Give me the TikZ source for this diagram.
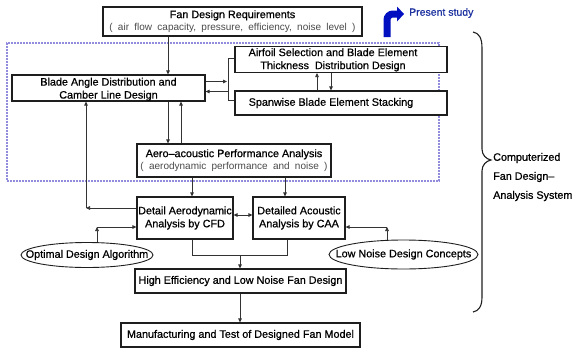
\documentclass[tikz,border=0pt]{standalone}
\usepackage{fontspec}
\setmainfont[FakeBold=0.7]{Liberation Sans}
\newfontfamily\subfont[WordSpace=1.9]{Liberation Sans}
\usetikzlibrary{arrows.meta,shapes.geometric}
\definecolor{boxline}{HTML}{1E1E1E}
\definecolor{conline}{HTML}{333333}
\definecolor{subgray}{HTML}{4A4A4A}
\definecolor{dashlav}{HTML}{928CDC}
\definecolor{psblue}{HTML}{1E32A0}
\definecolor{arrblue}{HTML}{0010C0}
\newcommand{\mainsz}{\fontsize{10.8}{13}\selectfont}
\newcommand{\subsz}{\subfont\fontsize{10}{13}\selectfont\color{subgray}}
\newcommand{\lowered}[2]{\raisebox{-#1}[\height][\depth]{\begin{tabular}{@{}c@{}}#2\end{tabular}}}
\tikzset{
  box/.style={draw=boxline, line width=1.2pt, fill=white, inner sep=0pt, align=center, font=\mainsz, text=black},
  ell/.style={ellipse, draw=boxline, line width=0.9pt, fill=white, inner sep=0pt, font=\mainsz},
  con/.style={draw=conline, line width=0.75pt},
  arr/.style={con, -{Triangle[length=4pt,width=3.6pt]}},
  arrb/.style={con, {Triangle[length=4pt,width=3.6pt]}-{Triangle[length=4pt,width=3.6pt]}},
  dashbox/.style={draw=dashlav, line width=1.2pt, dash pattern=on 1.6pt off 1.4pt, inner sep=0pt},
}
\begin{document}
\begin{tikzpicture}[x=1pt,y=-1pt]
\useasboundingbox (0,0) rectangle (581,351);
% dashed system frame
\node[dashbox, minimum width=432pt, minimum height=138pt] (sys) at (223,112) {};
% boxes
\node[box, minimum width=259pt, minimum height=29pt] (req) at (232.5,21.5)
  {Fan Design Requirements\\[-0.5pt]{\subsz ( air flow capacity, pressure, efficiency, noise level )}};
\node[box, minimum width=193pt, minimum height=24pt] (blade) at (108.5,88)
  {\lowered{1.5pt}{Blade Angle Distribution and\\Camber Line Design}};
\node[box, minimum width=212pt, minimum height=25pt] (airfoil) at (341,59.5)
  {\lowered{0.5pt}{Airfoil Selection and Blade Element\hspace*{16pt}\\Thickness\ \ Distribution Design\hspace*{16pt}}};
\node[box, minimum width=212pt, minimum height=24pt] (span) at (341,103)
  {Spanwise Blade Element Stacking\hspace*{20pt}};
\node[box, minimum width=194pt, minimum height=33pt] (aero) at (234,160.5)
  {Aero–acoustic Performance Analysis\\[-0.5pt]{\subsz ( aerodynamic performance and noise )}};
\node[box, minimum width=96pt, minimum height=42pt] (cfd) at (185,218)
  {Detail Aerodynamic\\Analysis by CFD};
\node[box, minimum width=92pt, minimum height=42pt] (caa) at (299,218)
  {Detailed Acoustic\\Analysis by CAA};
\node[box, minimum width=211pt, minimum height=24pt] (high) at (240.5,281)
  {High Efficiency and Low Noise Fan Design};
\node[box, minimum width=239pt, minimum height=24pt] (manu) at (240.5,335)
  {Manufacturing and Test of Designed Fan Model};
\node[ell, minimum width=132pt, minimum height=25pt] (opt) at (87,255)
  {\makebox[0pt]{Optimal Design Algorithm}};
\node[ell, minimum width=149pt, minimum height=29pt] (low) at (403.5,254.5)
  {\makebox[0pt]{Low Noise Design Concepts}};
% helper coordinates
\coordinate (X168) at (168,0);
\coordinate (X181) at (181,0);
\coordinate (X192) at (192,0);
\coordinate (X227) at (227,0);
\coordinate (X228) at (228,0);
\coordinate (X285) at (285,0);
\coordinate (X287) at (287,0);
\coordinate (X317) at (317,0);
\coordinate (X331) at (331,0);
\coordinate (Y58) at (0,58);
\coordinate (Y81) at (0,81.5);
\coordinate (Y92) at (0,91.5);
\coordinate (Y100) at (0,100);
\coordinate (Y215) at (0,215);
\coordinate (k1) at (86,208);
\coordinate (k2) at (97,227);
\coordinate (k3) at (387,227);
\coordinate (j) at (240,255);
% connectors
\draw[arr] (req.south -| X168) -- (blade.north -| X168);
\draw[arr] (blade.east |- Y81) -- (X227 |- Y81);
\draw[arr] (X228 |- Y92) -- (blade.east |- Y92);
\draw[con] (airfoil.west |- Y58) -- (X228 |- Y58) -- (X228 |- Y100) -- (span.west |- Y100);
\draw[arr] (span.north -| X317) -- (airfoil.south -| X317);
\draw[arr] (airfoil.south -| X331) -- (span.north -| X331);
\draw[arr] (blade.south -| X168) -- (aero.north -| X168);
\draw[arr] (aero.north -| X181) -- (blade.south -| X181);
\draw[arr] (aero.south -| X192) -- (cfd.north -| X192);
\draw[arr] (aero.south -| X285) -- (caa.north -| X285);
\draw[arrb] (cfd.east |- Y215) -- (caa.west |- Y215);
\draw[arr] (cfd.west |- k1) -- (k1);
\draw[arr] (k1) -- (blade.south -| k1);
\draw[arr] (opt.north -| k2) -- (k2);
\draw[arr] (k2) -- (cfd.west |- k2);
\draw[arr] (low.north -| k3) -- (k3);
\draw[arr] (k3) -- (caa.east |- k3);
\draw[con] (cfd.south -| X192) -- (X192 |- j) -- (X287 |- j) -- (caa.south -| X287);
\draw[arr] (j) -- (high.north -| j);
\draw[arr] (high.south -| j) -- (manu.north -| j);
% present study
\node[anchor=west, inner sep=0pt, font=\fontsize{10.5}{12}\selectfont, text=psblue] (ps) at (409,13) {Present study};
\coordinate (psa) at (387,37);
\draw[arrblue, line width=7pt, rounded corners=6pt] (psa) -- (387,14) -- (398,14);
\fill[arrblue] (397,6.5) -- (404,14) -- (397,21.5) -- cycle;
% brace
\draw[boxline, line width=1.1pt] (473,32) .. controls (479,33) and (482,38) .. (482,48)
  -- (482,149) .. controls (482,155) and (486,159) .. (491,160)
  .. controls (486,161) and (482,165) .. (482,171)
  -- (482,297) .. controls (482,306) and (479,311) .. (473,312);
\node[anchor=west, inner sep=0pt, align=left, font=\fontsize{10.8}{19}\selectfont] (cfds) at (493,177)
  {Computerized\\Fan Design–\\Analysis System};
\end{tikzpicture}
\end{document}
